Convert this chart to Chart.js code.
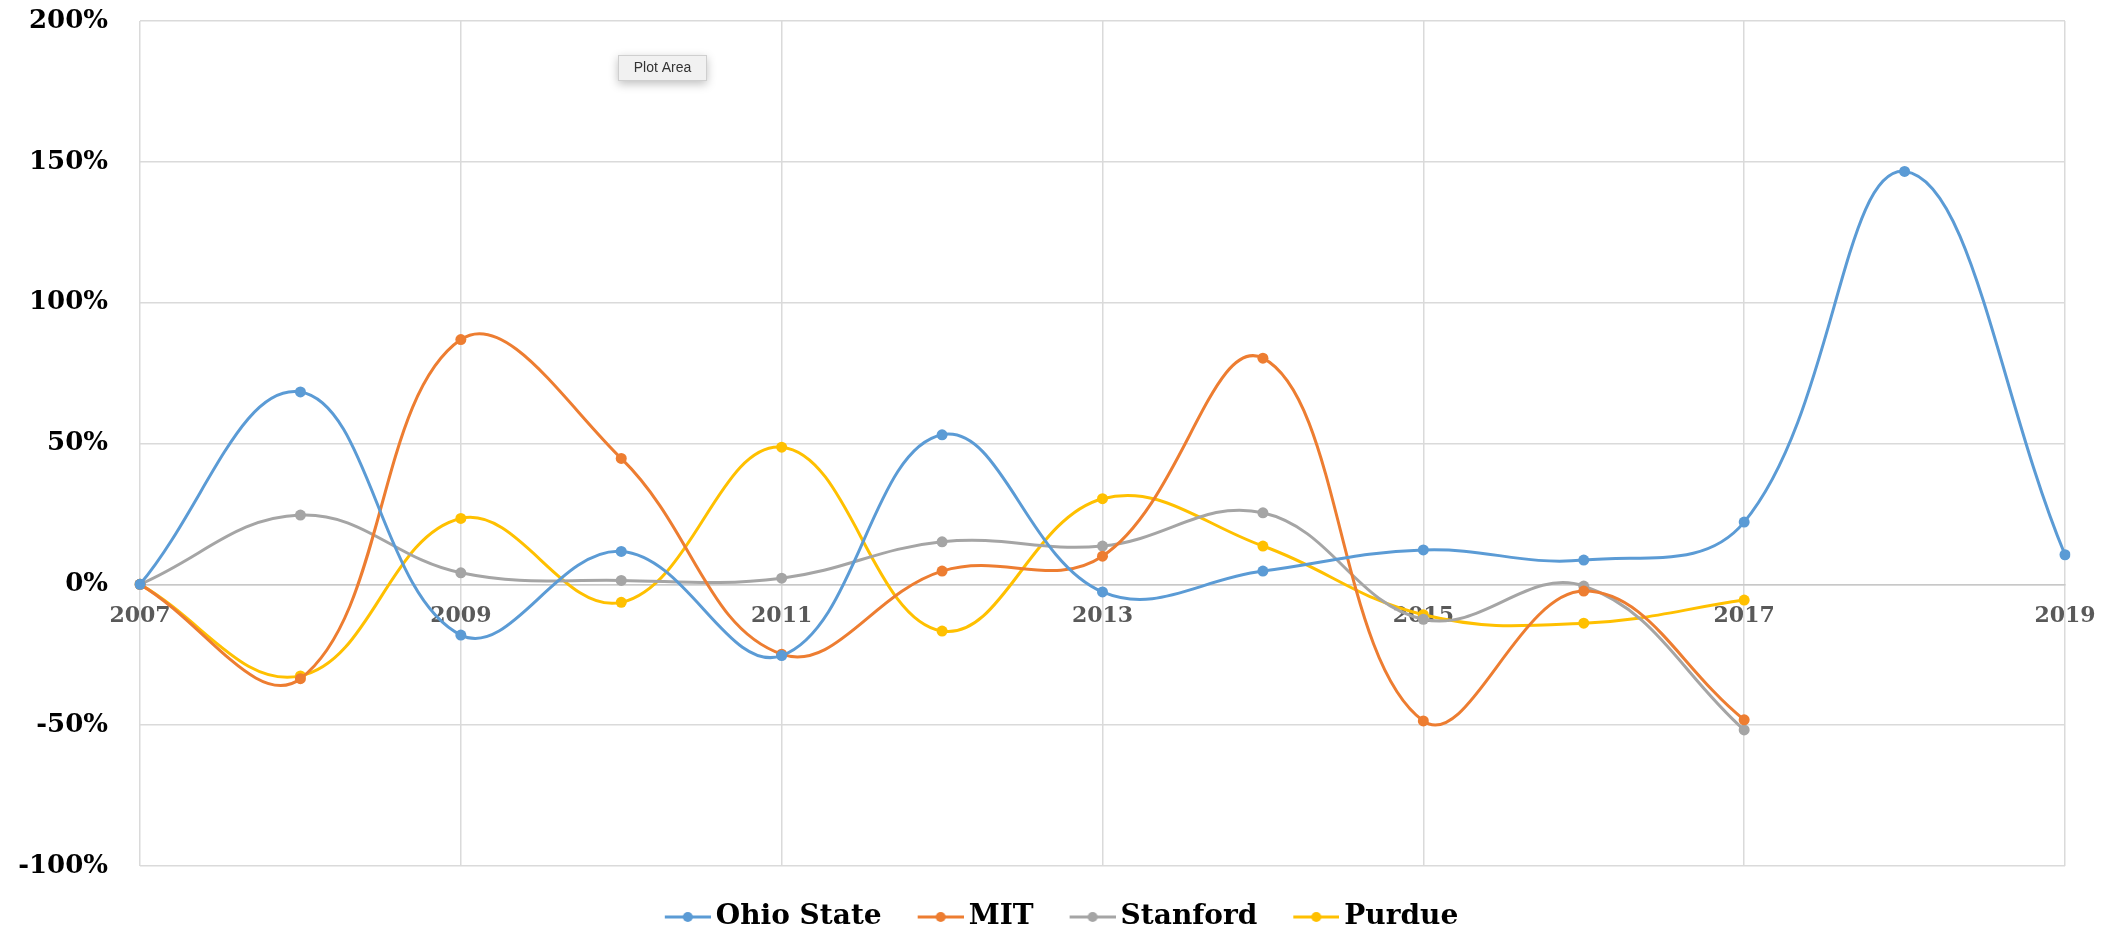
<!DOCTYPE html>
<html>
<head>
<meta charset="utf-8">
<script src="https://cdn.jsdelivr.net/npm/chart.js@4.4.1/dist/chart.umd.min.js"></script>
<style>
  html, body { margin:0; padding:0; background:#fff; }
  #wrap { width:2117px; height:930px; }
</style>
</head>
<body>
<div id="wrap"><canvas id="chart"></canvas></div>
<script>
// ===== data =====
const years = ['2007','2008','2009','2010','2011','2012','2013','2014','2015','2016','2017','2018','2019'];
const ohioState = [0, 68.3, -18.0, 11.7, -25.3, 53.1, -2.7, 4.7, 12.2, 8.6, 22.1, 146.6, 10.5];
const mit       = [0, -33.5, 86.9, 44.7, -24.8, 4.7, 10.0, 80.3, -48.5, -2.4, -48.1, null, null];
const stanford  = [0, 24.6, 4.1, 1.4, 2.2, 15.1, 13.6, 25.4, -12.4, -0.6, -51.7, null, null];
const purdue    = [0, -32.5, 23.4, -6.4, 48.7, -16.6, 30.4, 13.6, -10.8, -13.8, -5.6, null, null];
const yTicks = { min: -100, max: 200, step: 50 };

const seriesNames  = ['Ohio State', 'MIT', 'Stanford', 'Purdue'];
const seriesValues = [ohioState, mit, stanford, purdue];
const seriesColors = ['#5B9BD5', '#ED7D31', '#A5A5A5', '#FFC000'];

const serif = '"DejaVu Serif", serif';

// legend marker: short line with a dot, drawn once per colour
function legendMarker(color) {
  const c = document.createElement('canvas');
  c.width = 54; c.height = 14;
  const g = c.getContext('2d');
  g.strokeStyle = color; g.lineWidth = 3;
  g.beginPath(); g.moveTo(8, 7); g.lineTo(54, 7); g.stroke();
  g.fillStyle = color;
  g.beginPath(); g.arc(31, 7, 5, 0, Math.PI*2); g.fill();
  return c;
}

// the little "Plot Area" hover tag seen in the screenshot
const plotAreaTag = {
  id: 'plotAreaTag',
  afterDraw(chart) {
    const ctx = chart.ctx;
    ctx.save();
    ctx.shadowColor = 'rgba(0,0,0,0.25)'; ctx.shadowBlur = 10; ctx.shadowOffsetY = 3;
    ctx.fillStyle = '#f1f1f1';
    ctx.fillRect(618, 55, 89, 26);
    ctx.shadowColor = 'transparent';
    ctx.strokeStyle = '#cfcfcf'; ctx.lineWidth = 1;
    ctx.strokeRect(618.5, 55.5, 88, 25);
    ctx.fillStyle = '#333';
    ctx.font = '14px "Liberation Sans", Arial, sans-serif';
    ctx.textAlign = 'center'; ctx.textBaseline = 'middle';
    ctx.fillText('Plot Area', 662.5, 68.5);
    ctx.restore();
  }
};

const datasets = seriesNames.map((name, i) => ({
  label: name,
  data: seriesValues[i],
  borderColor: seriesColors[i],
  backgroundColor: seriesColors[i],
  borderWidth: 3,
  pointRadius: 5.5,
  pointBorderWidth: 0,
  pointHoverRadius: 5.5,
  tension: 0.4,
  spanGaps: false,
  fill: false
}));

new Chart(document.getElementById('chart'), {
  type: 'line',
  data: { labels: years, datasets },
  plugins: [plotAreaTag],
  options: {
    responsive: true, maintainAspectRatio: false, animation: false,
    layout: { padding: { top: 21, right: 0, bottom: -11, left: 7 } },
    plugins: {
      tooltip: { enabled: false },
      legend: {
        position: 'bottom', align: 'center',
        labels: {
          usePointStyle: true, pointStyleWidth: 36, padding: 37,
          color: '#000', font: { family: serif, size: 28, weight: 'bold' },
          generateLabels: chart => Chart.defaults.plugins.legend.labels.generateLabels(chart)
            .map((it, i) => ({ ...it, pointStyle: legendMarker(seriesColors[i]), lineWidth: 0 }))
        }
      }
    },
    scales: {
      x: {
        position: { y: 0 },
        offset: false,
        grid: { color: c => (c.index % 2 === 0 ? '#dadada' : 'transparent'), lineWidth: 1.5, drawTicks: false },
        border: { color: '#c8c8c8', width: 1.5 },
        ticks: {
          autoSkip: false, maxRotation: 0, padding: 19,
          color: '#595959', font: { family: serif, size: 22, weight: 'bold' },
          callback: (v, i) => (i % 2 === 0 ? years[i] : '')
        }
      },
      y: {
        min: yTicks.min, max: yTicks.max,
        grid: { color: '#dadada', lineWidth: 1.5, drawTicks: false },
        border: { display: false },
        ticks: {
          stepSize: yTicks.step, padding: 32,
          color: '#000', font: { family: serif, size: 26, weight: 'bold' },
          callback: v => v + '%'
        },
        afterFit: s => { s.width = 133; s.paddingTop = 0; s.paddingBottom = 0; }
      },
      yRight: {
        position: 'right', display: true,
        grid: { display: false, drawTicks: false },
        border: { display: false },
        ticks: { display: false },
        afterFit: s => { s.width = 52; }
      }
    }
  }
});
</script>
</body>
</html>
